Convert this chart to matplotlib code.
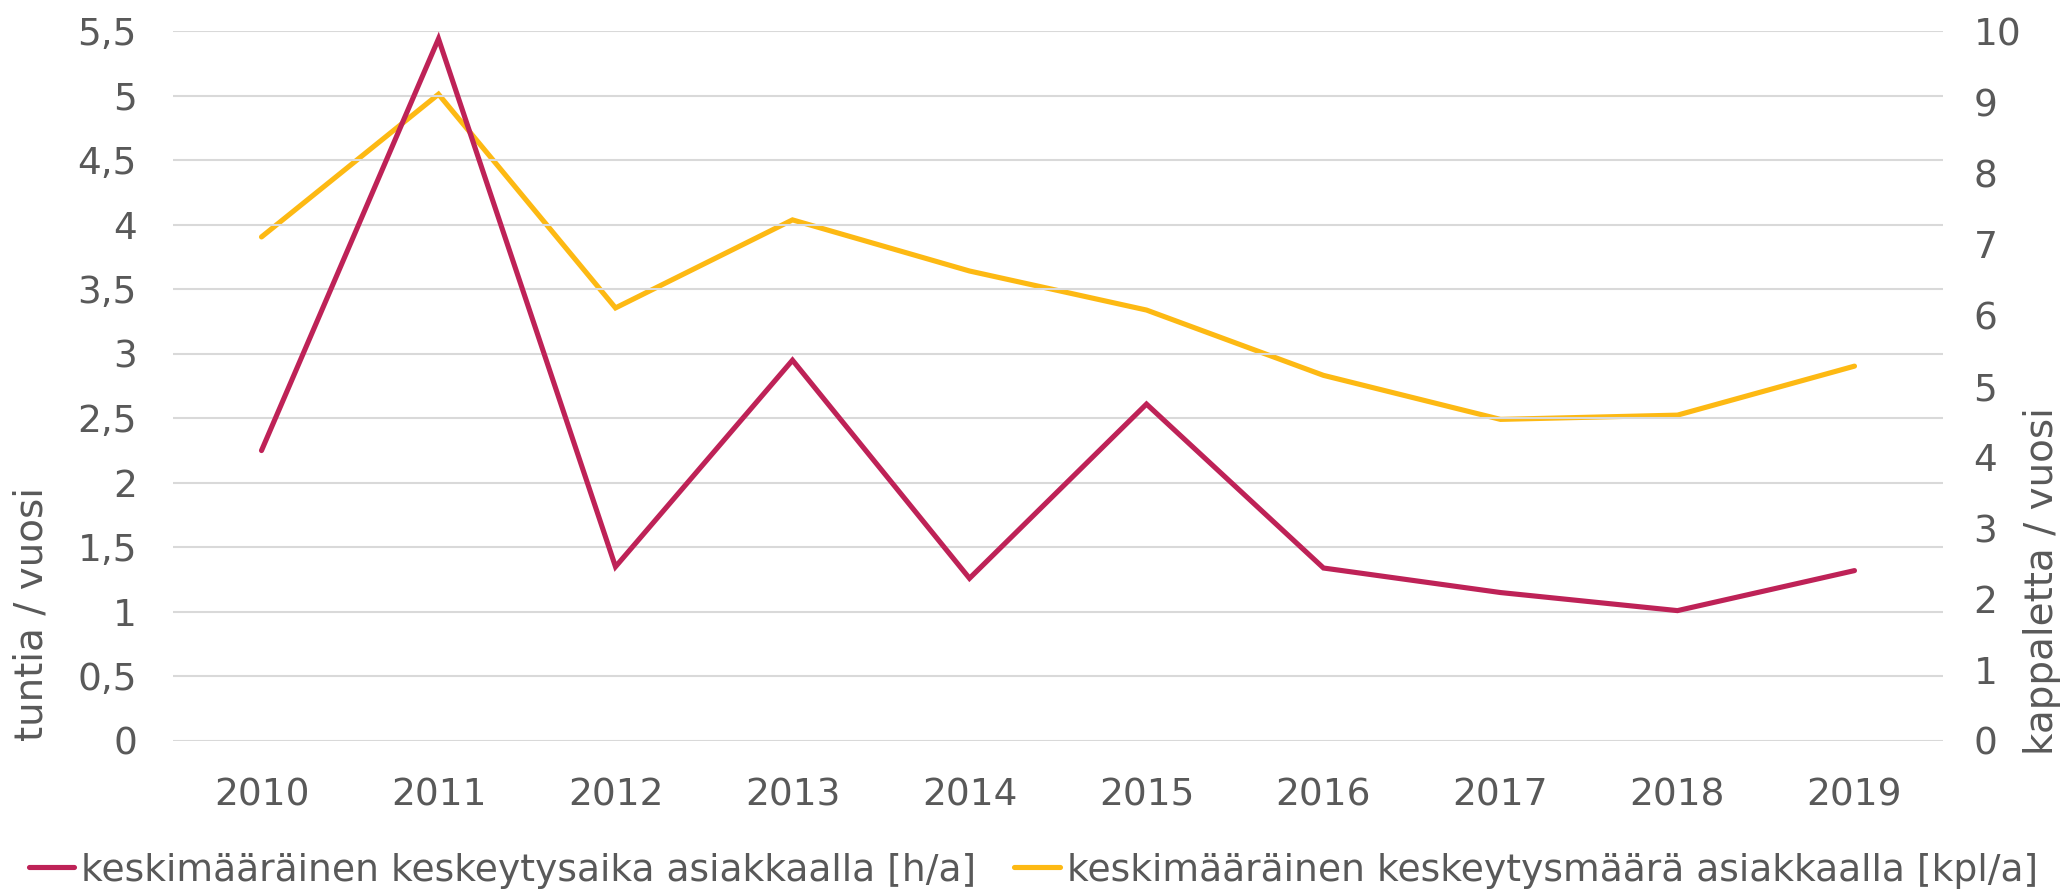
import matplotlib
matplotlib.use("Agg")
import matplotlib.pyplot as plt
import numpy as np

# Data
years = ["2010", "2011", "2012", "2013", "2014", "2015", "2016", "2017", "2018", "2019"]
hours_per_year = [2.25, 5.44, 1.35, 2.95, 1.26, 2.61, 1.34, 1.15, 1.01, 1.32]   # left axis
count_per_year = [7.10, 9.11, 6.10, 7.34, 6.62, 6.07, 5.15, 4.53, 4.59, 5.28]   # right axis

left_ticks = np.arange(0, 5.51, 0.5)
right_ticks = np.arange(0, 11, 1)

label_h = "keskimääräinen keskeytysaika asiakkaalla [h/a]"
label_kpl = "keskimääräinen keskeytysmäärä asiakkaalla [kpl/a]"

CRIMSON = "#BE2257"
YELLOW = "#FDB913"
GREY_TXT = "#595959"
GRID = "#D9D9D9"
FS = 27

plt.rcParams['font.family'] = ['DejaVu Sans']

fig = plt.figure(figsize=(20.67, 8.92), dpi=100)
ax = fig.add_axes([0.0837, 0.1693, 0.8563, 0.7959])
ax2 = ax.twinx()

x = np.arange(len(years))

# gridlines follow the left axis
for v in left_ticks:
    ax.axhline(v, color=GRID, lw=1.5, zorder=0)

l1, = ax.plot(x, hours_per_year, color=CRIMSON, lw=3.7, solid_capstyle='round',
              solid_joinstyle='miter', label=label_h, zorder=3)
l2, = ax2.plot(x, count_per_year, color=YELLOW, lw=3.7, solid_capstyle='round',
               solid_joinstyle='miter', label=label_kpl, zorder=3)
ax.set_zorder(ax2.get_zorder() + 1)
ax.patch.set_visible(False)

ax.set_xlim(-0.5, len(years) - 0.5)
ax.set_ylim(0, 5.5)
ax2.set_ylim(0, 10)

ax.set_xticks(x)
ax.set_xticklabels(years)
ax.set_yticks(left_ticks)
ax.set_yticklabels([f"{v:g}".replace(".", ",") for v in left_ticks])
ax2.set_yticks(right_ticks)
ax2.set_yticklabels([f"{v:g}" for v in right_ticks])

for a in (ax, ax2):
    for s in a.spines.values():
        s.set_visible(False)
    a.tick_params(length=0, labelsize=FS, labelcolor=GREY_TXT)
ax.tick_params(axis='y', pad=26)
ax.tick_params(axis='x', pad=26)
ax2.tick_params(axis='y', pad=22)

# axis titles sit low, ending near the zero line
ax.text(-0.080, 0, "tuntia / vuosi", transform=ax.transAxes, rotation=90,
        ha='center', va='bottom', fontsize=28, color=GREY_TXT)
ax.text(1.056, -0.02, "kappaletta / vuosi", transform=ax.transAxes, rotation=90,
        ha='center', va='bottom', fontsize=28, color=GREY_TXT)

fig.legend(handles=[l1, l2], loc='center', bbox_to_anchor=(0.5, 0.024),
           ncol=2, frameon=False, fontsize=27.2, labelcolor=GREY_TXT,
           handlelength=1.2, handletextpad=0.2, columnspacing=1.0,
           borderaxespad=0)

fig.savefig("out.png", dpi=100)
